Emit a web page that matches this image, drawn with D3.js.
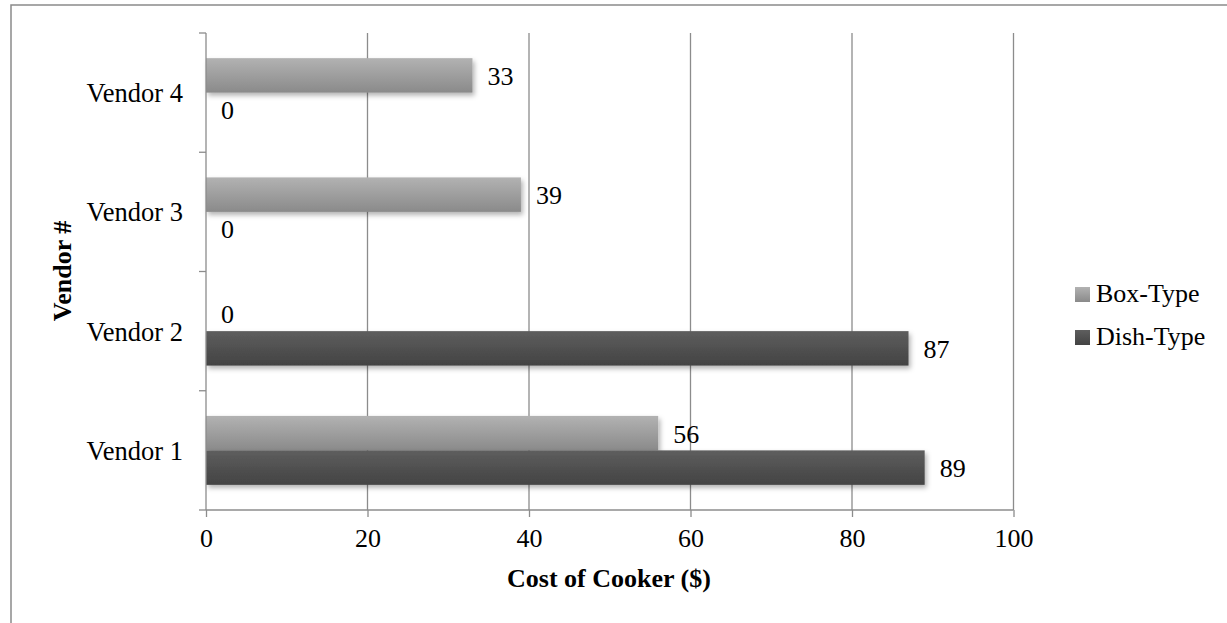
<!DOCTYPE html>
<html>
<head>
<meta charset="utf-8">
<script src="https://cdn.jsdelivr.net/npm/d3@7/dist/d3.min.js"></script>
<style>
  html, body { margin: 0; padding: 0; background: #fff; }
  svg { display: block; font-family: "Liberation Serif", "Times New Roman", serif; }
</style>
</head>
<body>
<svg id="chart" width="1227" height="623"></svg>
<script>
// Cooker cost per vendor, by cooker type
const vendors = ["Vendor 1", "Vendor 2", "Vendor 3", "Vendor 4"];
const seriesNames = ["Box-Type", "Dish-Type"];
const boxType = [56, 0, 39, 33];
const dishType = [89, 87, 0, 0];
const xTicks = [0, 20, 40, 60, 80, 100];
const xTitle = "Cost of Cooker ($)";
const yTitle = "Vendor #";

const rows = vendors.map((v, i) => ({ vendor: v, values: [
  { series: seriesNames[0], value: boxType[i] },
  { series: seriesNames[1], value: dishType[i] }
]}));

const svg = d3.select("#chart");
const plotLeft = 206, plotRight = 1013.5, plotTop = 33, plotBottom = 510;

const x = d3.scaleLinear().domain([0, 100]).range([plotLeft, plotRight]);
const y = d3.scaleBand().domain(vendors.slice().reverse()).range([plotTop, plotBottom]);
const ySub = d3.scaleBand().domain(seriesNames).range([0, y.bandwidth()])
  .paddingInner(0).paddingOuter(0.73);

const defs = svg.append("defs");
const grads = [
  { id: "g-box", c0: "#b2b2b2", c1: "#8a8a8a" },
  { id: "g-dish", c0: "#5e5e5e", c1: "#434343" }
];
grads.forEach(g => {
  const lg = defs.append("linearGradient").attr("id", g.id)
    .attr("x1", 0).attr("y1", 0).attr("x2", 0).attr("y2", 1);
  lg.append("stop").attr("offset", "0%").attr("stop-color", g.c0);
  lg.append("stop").attr("offset", "100%").attr("stop-color", g.c1);
});
const fill = d3.scaleOrdinal().domain(seriesNames).range(["url(#g-box)", "url(#g-dish)"]);

const shadow = defs.append("filter").attr("id", "shadow")
  .attr("x", "-5%").attr("y", "-30%").attr("width", "115%").attr("height", "170%");
shadow.append("feDropShadow").attr("dx", 2).attr("dy", 3)
  .attr("stdDeviation", 2.5).attr("flood-color", "#000").attr("flood-opacity", 0.3);

// outer frame
svg.append("rect").attr("x", 11).attr("y", 5).attr("width", 1400).attr("height", 800)
  .attr("fill", "none").attr("stroke", "#8a8a8a").attr("stroke-width", 1.5);

// vertical gridlines
svg.append("g").selectAll("line").data(xTicks.slice(1)).join("line")
  .attr("x1", d => x(d)).attr("x2", d => x(d))
  .attr("y1", plotTop).attr("y2", plotBottom)
  .attr("stroke", "#8c8c8c").attr("stroke-width", 1.3);

// bars
const groups = svg.append("g").selectAll("g").data(rows).join("g")
  .attr("transform", d => `translate(0,${y(d.vendor)})`);

groups.selectAll("rect").data(d => d.values.filter(v => v.value > 0)).join("rect")
  .attr("x", x(0))
  .attr("y", d => ySub(d.series))
  .attr("width", d => x(d.value) - x(0))
  .attr("height", ySub.bandwidth())
  .attr("fill", d => fill(d.series))
  .attr("filter", "url(#shadow)");

// value labels
groups.selectAll("text").data(d => d.values).join("text")
  .attr("x", d => x(d.value) + 15)
  .attr("y", d => ySub(d.series) + ySub.bandwidth() / 2)
  .attr("dy", "0.36em")
  .attr("font-size", 26)
  .attr("fill", "#000")
  .text(d => d.value);

// x axis
const xAxis = svg.append("g").attr("transform", `translate(0,${plotBottom})`)
  .call(d3.axisBottom(x).tickValues(xTicks).tickSize(7).tickPadding(12).tickFormat(d3.format("d")));
xAxis.select(".domain").remove();
xAxis.selectAll(".tick line").attr("stroke", "#8c8c8c").attr("stroke-width", 1.3);
xAxis.selectAll(".tick text").attr("font-size", 26).attr("font-family", "Liberation Serif").attr("fill", "#000");

// y axis with boundary ticks between categories
const yAxisG = svg.append("g");
yAxisG.append("line").attr("x1", plotLeft).attr("x2", plotLeft).attr("y1", plotTop).attr("y2", plotBottom)
  .attr("stroke", "#8c8c8c").attr("stroke-width", 1.3);
const bounds = vendors.map(v => y(v)).concat([plotBottom]);
yAxisG.selectAll("line.b").data(bounds).join("line").attr("class", "b")
  .attr("x1", plotLeft - 7).attr("x2", plotLeft).attr("y1", d => d).attr("y2", d => d)
  .attr("stroke", "#8c8c8c").attr("stroke-width", 1.3);
svg.append("line").attr("x1", plotLeft).attr("x2", plotRight).attr("y1", plotBottom).attr("y2", plotBottom)
  .attr("stroke", "#8c8c8c").attr("stroke-width", 1.3);
yAxisG.selectAll("text").data(vendors).join("text")
  .attr("x", plotLeft - 23)
  .attr("y", d => y(d) + y.bandwidth() / 2)
  .attr("dy", "0.36em")
  .attr("text-anchor", "end")
  .attr("font-size", 26.5)
  .text(d => d);

// axis titles
svg.append("text").attr("x", 609).attr("y", 587)
  .attr("text-anchor", "middle").attr("font-size", 26).attr("font-weight", "bold")
  .text(xTitle);
svg.append("text").attr("transform", "translate(71,271) rotate(-90)")
  .attr("text-anchor", "middle").attr("font-size", 26).attr("font-weight", "bold")
  .text(yTitle);

// legend
const legend = svg.append("g").selectAll("g").data(seriesNames).join("g")
  .attr("transform", (d, i) => `translate(1075,${287 + i * 43})`);
legend.append("rect").attr("width", 15).attr("height", 15).attr("fill", d => fill(d));
legend.append("text").attr("x", 21).attr("y", 15).attr("font-size", 26).text(d => d);
</script>
</body>
</html>
